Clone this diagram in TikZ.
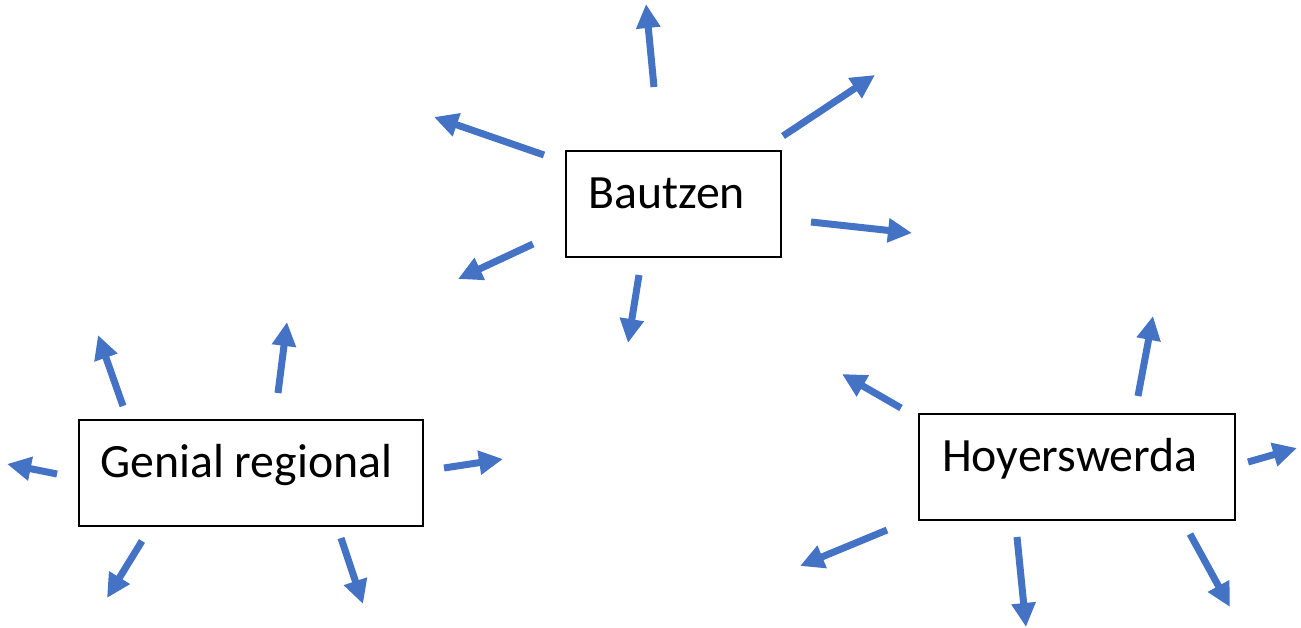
\documentclass[tikz,border=0pt]{standalone}
\usepackage{fontspec}
\setmainfont{Carlito}
\usetikzlibrary{arrows.meta}
\definecolor{arrblue}{HTML}{4472C4}
\newcommand\myarrow[3]{\coordinate (#1s) at (#2); \coordinate (#1e) at (#3); \draw[arr] (#1s) -- (#1e);}
\begin{document}
\begin{tikzpicture}[x=1pt,y=-1pt,
  box/.style={draw=black,line width=1.5pt,fill=none,inner sep=0pt},
  lbl/.style={inner sep=0pt,font=\fontsize{47.8}{52}\selectfont,text=black},
  arr/.style={draw=arrblue,line width=7pt,-{Triangle[width=23pt,length=24pt]}}]
\useasboundingbox (0,0) rectangle (1301,627);
% Bautzen
\node[box,minimum width=215pt,minimum height=106pt] (bbox) at (673.5,204) {};
\node[lbl,anchor=base west] (btxt) at (588,208) {Bautzen};
% Genial regional
\node[box,minimum width=344pt,minimum height=106pt] (gbox) at (251,473) {};
\node[lbl,anchor=base west] (gtxt) at (100,477) {Genial regional};
% Hoyerswerda
\node[box,minimum width=316pt,minimum height=106pt] (hbox) at (1077,467) {};
\node[lbl,anchor=base west] (htxt) at (942,471) {Hoyerswerda};
% Bautzen arrows
\myarrow{ba}{654,87}{646,4}
\myarrow{bb}{783,136}{875,75}
\myarrow{bc}{544,155}{434,117}
\myarrow{bd}{811,222}{912,233}
\myarrow{be}{533,244}{458,279}
\myarrow{bf}{639,275}{628,343}
% Genial arrows
\myarrow{ga}{123,406}{98,335}
\myarrow{gb}{278,393}{287,322}
\myarrow{gc}{57,474}{7,464}
\myarrow{gd}{444,468}{503,459}
\myarrow{ge}{142,541}{107,598}
\myarrow{gf}{341,538}{363,604}
% Hoyerswerda arrows
\myarrow{ha}{901,408}{842,374}
\myarrow{hb}{1138,396}{1153,316}
\myarrow{hc}{1248,462}{1297,448}
\myarrow{hd}{887,530}{800,566}
\myarrow{he}{1017,537}{1026,627}
\myarrow{hf}{1190,534}{1230,607}
\end{tikzpicture}
\end{document}
